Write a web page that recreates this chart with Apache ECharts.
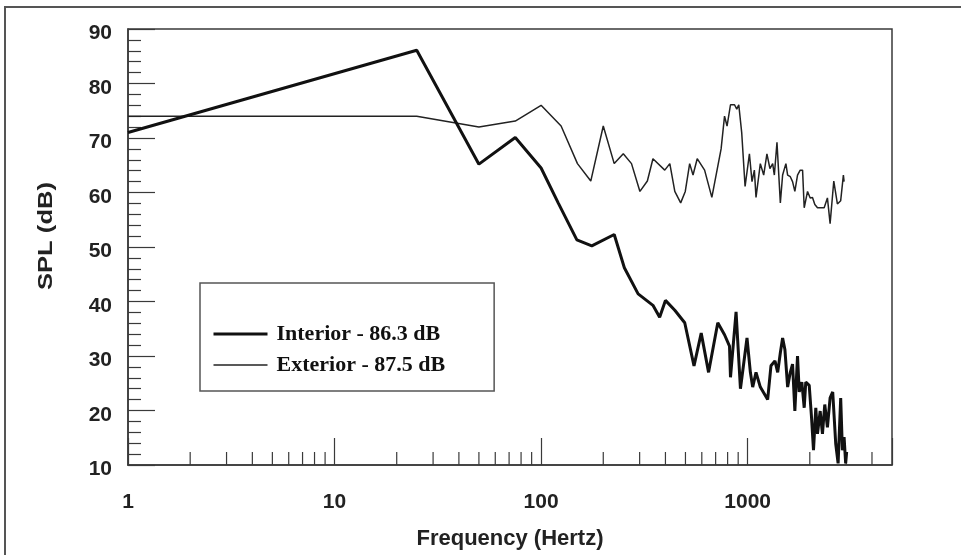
<!DOCTYPE html>
<html>
<head>
<meta charset="utf-8">
<script src="https://cdn.jsdelivr.net/npm/echarts@6/dist/echarts.min.js"></script>
<style>html,body{margin:0;padding:0;background:#fff}#c{width:961px;height:555px}</style>
</head>
<body>
<div id="c"></div>
<script>
// Series names (legend)
const interiorName = 'Interior - 86.3 dB';
const exteriorName = 'Exterior - 87.5 dB';

// Interior spectrum: frequency (Hz) and SPL (dB)
const interiorFreq = [1, 25, 50, 75, 100, 121, 149, 176, 226, 253, 295, 348, 375, 400, 444, 496, 550, 596, 647, 717, 773, 817, 826, 879, 923, 993, 1031, 1058, 1098, 1152, 1250, 1297, 1356, 1398, 1440, 1477, 1515, 1562, 1609, 1650, 1693, 1744, 1778, 1830, 1879, 1912, 1987, 2039, 2084, 2138, 2179, 2245, 2303, 2363, 2434, 2508, 2582, 2670, 2742, 2822, 2876, 2931, 2983, 3016];
const interiorDb = [71, 86.1, 65.2, 70.1, 64.5, 58.1, 51.3, 50.2, 52.3, 46.2, 41.4, 39.3, 37.1, 40.2, 38.4, 36.1, 28.2, 34.2, 27.0, 36.1, 33.9, 31.8, 26.1, 38.1, 24.0, 33.3, 27.0, 24.3, 27.0, 24.3, 22.0, 28.2, 29.1, 27.0, 30.6, 33.3, 31.2, 24.3, 27.0, 28.5, 19.9, 30.0, 23.4, 25.2, 20.5, 25.2, 24.6, 18.7, 12.7, 20.5, 15.7, 19.9, 15.7, 21.1, 16.9, 22.3, 23.4, 13.9, 10.3, 22.3, 12.7, 15.1, 10.3, 12.4];

// Exterior spectrum: frequency (Hz) and SPL (dB)
const exteriorFreq = [1, 25, 50, 75, 100, 125, 150, 174, 200, 226, 250, 274, 301, 327, 348, 397, 420, 444, 474, 499, 524, 544, 570, 619, 671, 744, 773, 795, 826, 864, 886, 906, 936, 972, 1020, 1050, 1078, 1098, 1152, 1196, 1240, 1282, 1322, 1347, 1387, 1440, 1477, 1532, 1562, 1609, 1650, 1693, 1744, 1797, 1845, 1879, 1950, 2009, 2061, 2115, 2179, 2260, 2347, 2434, 2508, 2613, 2720, 2822, 2908, 2931];
const exteriorDb = [74, 74, 72.0, 73.1, 76.0, 72.2, 65.3, 62.1, 72.2, 65.3, 67.1, 65.3, 60.2, 62.1, 66.2, 64.1, 65.3, 60.2, 58.1, 60.2, 65.3, 63.2, 66.2, 64.1, 59.1, 68.0, 74.0, 72.2, 76.1, 76.1, 75.3, 76.1, 71.0, 61.1, 67.1, 62.0, 64.1, 59.1, 65.3, 63.2, 67.1, 64.4, 65.3, 63.2, 69.2, 58.1, 63.2, 65.3, 63.2, 62.9, 62.0, 60.2, 63.2, 64.1, 64.1, 57.2, 60.2, 59.0, 59.1, 57.8, 57.2, 57.2, 57.2, 59.0, 54.3, 62.1, 57.9, 58.5, 63.2, 62.0];

// Axis settings / tick values
const xMin = 1, xMax = 5000;
const yMin = 10, yMax = 90, yStep = 10;
const xMinorTicks = [2, 3, 4, 5, 6, 7, 8, 9, 20, 30, 40, 50, 60, 70, 80, 90, 200, 300, 400, 500, 600, 700, 800, 900, 2000, 3000, 4000];
const xTitle = 'Frequency (Hertz)';
const yTitle = 'SPL (dB)';

const chart = echarts.init(document.getElementById('c'), null, {renderer: 'canvas'});
const axisColor = '#3a3a3a';
const sans = 'Liberation Sans';

chart.setOption({
  animation: false,
  backgroundColor: '#fff',
  grid: {left: 128, top: 29, right: 69, bottom: 80, show: true, borderColor: axisColor, borderWidth: 1.5, backgroundColor: 'transparent'},
  legend: {
    orient: 'vertical', left: 200, top: 283,
    padding: [40, 49, 15, 12],
    itemWidth: 54, itemHeight: 16, itemGap: 9,
    borderColor: '#555', borderWidth: 1.5,
    selectedMode: false,
    itemStyle: {opacity: 0},
    textStyle: {fontFamily: 'Liberation Serif', fontWeight: 'bold', fontSize: 22, color: '#111', lineHeight: 22, padding: [0, 0, 0, 4]},
    data: [
      {name: interiorName, lineStyle: {width: 3, color: '#111'}},
      {name: exteriorName, lineStyle: {width: 1.3, color: '#222'}}
    ]
  },
  xAxis: {
    type: 'log', logBase: 10, min: xMin, max: xMax,
    name: xTitle, nameLocation: 'middle', nameGap: 63,
    nameTextStyle: {fontFamily: sans, fontWeight: 'bold', fontSize: 22, color: '#222'},
    axisLine: {lineStyle: {color: axisColor, width: 1.5}},
    axisTick: {inside: true, length: 27, lineStyle: {color: axisColor, width: 1.2}},
    splitLine: {show: false},
    axisLabel: {
      margin: 27, fontFamily: sans, fontWeight: 'bold', fontSize: 21, color: '#222',
      formatter: function (v) {
        const l = Math.log10(v);
        return Math.abs(l - Math.round(l)) < 1e-6 ? String(Math.round(v)) : '';
      }
    }
  },
  yAxis: {
    type: 'value', min: yMin, max: yMax, interval: yStep,
    axisLine: {show: true, lineStyle: {color: axisColor, width: 1.5}},
    axisTick: {show: true, inside: true, length: 27, lineStyle: {color: axisColor, width: 1.2}},
    minorTick: {show: true, splitNumber: 5, length: 13, lineStyle: {color: axisColor, width: 1.2}},
    splitLine: {show: false},
    axisLabel: {margin: 16, fontFamily: sans, fontWeight: 'bold', fontSize: 21, color: '#222', verticalAlign: 'top', lineHeight: 9}
  },
  graphic: [
    {type: 'rect', silent: true, shape: {x: 5, y: 7, width: 1000, height: 600}, style: {fill: null, stroke: '#555', lineWidth: 2}},
    {type: 'text', silent: true, x: 46, y: 236, rotation: Math.PI / 2, scaleX: 1.22,
     style: {text: yTitle, fontFamily: sans, fontWeight: 'bold', fontSize: 21, fill: '#222', align: 'center', verticalAlign: 'middle'}}
  ],
  series: [
    {
      name: 'minorTicks', type: 'custom', silent: true, z: 1,
      data: xMinorTicks.map(f => [f, yMin]),
      encode: {x: 0, y: 1},
      renderItem: function (params, api) {
        const p = api.coord([api.value(0), api.value(1)]);
        return {type: 'line', shape: {x1: p[0], y1: p[1], x2: p[0], y2: p[1] - 13}, style: {stroke: axisColor, lineWidth: 1.2}};
      }
    },
    {
      name: interiorName, type: 'line', symbol: 'none', z: 3,
      lineStyle: {color: '#111', width: 3}, itemStyle: {color: '#111'},
      data: interiorFreq.map((f, i) => [f, interiorDb[i]])
    },
    {
      name: exteriorName, type: 'line', symbol: 'none', z: 2,
      lineStyle: {color: '#222', width: 1.5}, itemStyle: {color: '#222'},
      data: exteriorFreq.map((f, i) => [f, exteriorDb[i]])
    }
  ]
});
</script>
</body>
</html>
